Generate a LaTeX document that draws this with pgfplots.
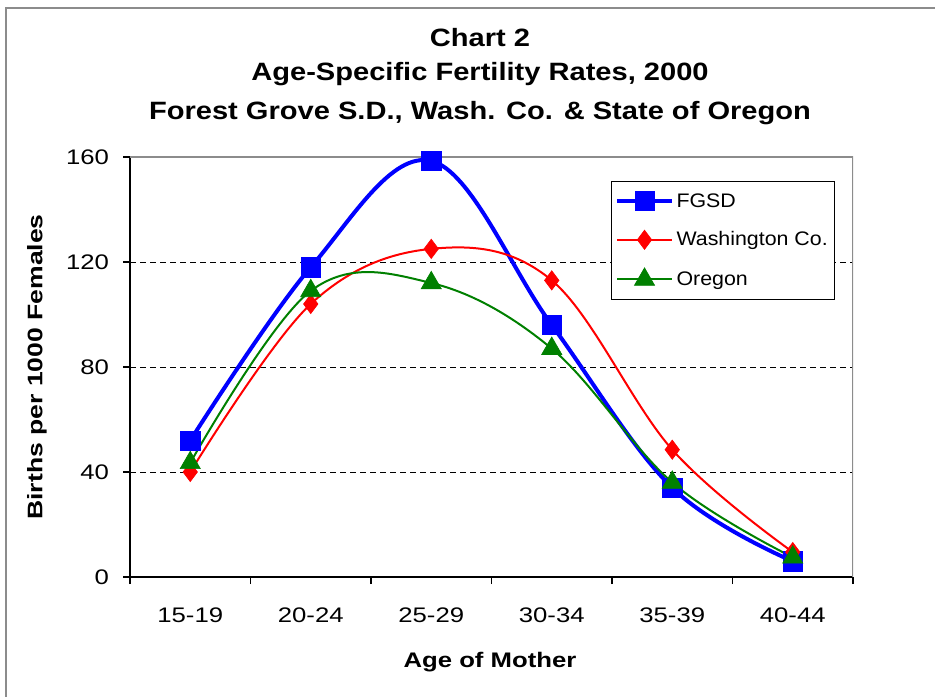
\documentclass[border=0pt]{standalone}
\usepackage{pgfplots}
\pgfplotsset{compat=1.18}
\usepackage{fontspec}
\setmainfont{Liberation Sans}
\newfontfamily\wideT{Liberation Sans}[FakeStretch=1.16]
\newfontfamily\wideA{Liberation Sans}[FakeStretch=1.22]
\newfontfamily\wideB{Liberation Sans}[FakeStretch=1.26]
\newfontfamily\wideL{Liberation Sans}[FakeStretch=1.09]
\definecolor{fgsd}{RGB}{0,0,255}
\definecolor{wash}{RGB}{255,0,0}
\definecolor{oreg}{RGB}{0,128,0}
\definecolor{frame}{RGB}{140,140,140}
\begin{document}
\begin{tikzpicture}
\useasboundingbox (0pt,0pt) rectangle (701.25pt,522pt);
% outer chart frame (left and top visible)
\draw[frame,line width=2.2pt] (4.5pt,-4pt) -- (4.5pt,516pt) -- (705pt,516pt);
% titles
\node[font=\wideT\bfseries\fontsize{18.8}{21}\selectfont] at (360pt,493.5pt) {Chart 2};
\node[font=\wideT\bfseries\fontsize{18.8}{21}\selectfont] at (360pt,466.5pt) {Age-Specific Fertility Rates, 2000};
\node[font=\wideT\bfseries\fontsize{18.8}{21}\selectfont] at (360pt,437.25pt) {Forest Grove S.D., Wash. Co. \& State of Oregon};
% axis labels
\node[font=\wideA\bfseries\fontsize{15.8}{19}\selectfont] at (367.5pt,25.5pt) {Age of Mother};
\node[font=\wideB\bfseries\fontsize{15.8}{19}\selectfont,rotate=90] at (27.75pt,246.75pt) {Births per 1000 Females};
\begin{axis}[
  at={(97.5pt,89.25pt)}, anchor=south west,
  scale only axis, width=542.25pt, height=315pt,
  xmin=-0.5, xmax=5.5, ymin=0, ymax=160,
  axis x line*=bottom, axis y line*=left,
  axis line style={black, line width=0.8pt, -},
  xtick={0,1,2,3,4,5},
  xticklabels={15-19,20-24,25-29,30-34,35-39,40-44},
  minor xtick={-0.5,0.5,1.5,2.5,3.5,4.5,5.5},
  major x tick style={draw=none},
  minor x tick style={black, line width=0.8pt},
  ytick={0,40,80,120,160},
  tick align=outside,
  major tick length=5.25pt, minor tick length=5.25pt,
  ytick style={black, line width=0.8pt},
  ymajorgrids,
  major grid style={black, line width=0.6pt, dash pattern=on 4.5pt off 3pt},
  /pgf/number format/assume math mode=true,
  ticklabel style={font=\wideA\fontsize{15.8}{18}\selectfont},
  xticklabel style={yshift=-14pt},
  yticklabel style={xshift=-7pt},
  legend style={at={(0.665,0.943)}, anchor=north west, draw=black, line width=0.6pt,
    font=\wideL\fontsize{14.7}{17}\selectfont, inner xsep=3pt, inner ysep=7pt,
    row sep=13pt, cells={anchor=west}},
  legend cell align=left,
  legend image code/.code={\draw[mark repeat=2, mark phase=2, #1] plot coordinates {(0pt,0pt) (20.5pt,0pt) (41pt,0pt)};},
]
\addplot[fgsd, line width=3pt, smooth, tension=0.6, mark=square*, mark size=7.2pt, mark options={solid, line width=0.5pt, fill=fgsd}]
  coordinates {(0,52) (1,118) (2,158.5) (3,96) (4,34) (5,6)};
\addlegendentry{FGSD}
\addplot[wash, line width=1.5pt, smooth, tension=0.6, mark=diamond*, mark size=7.2pt, mark options={solid, line width=0.5pt, fill=wash}]
  coordinates {(0,40) (1,104) (2,125) (3,113) (4,48.5) (5,9.5)};
\addlegendentry{Washington Co.}
\addplot[oreg, line width=1.5pt, smooth, tension=0.6, mark=triangle*, mark size=8.7pt, mark options={solid, line width=0.5pt, fill=oreg}]
  coordinates {(0,43.5) (1,109) (2,112) (3,87) (4,36) (5,7.5)};
\addlegendentry{Oregon}
\draw[frame, line width=1.5pt] (rel axis cs:0,1) -- (rel axis cs:1,1) -- (rel axis cs:1,-0.02);
\end{axis}
\end{tikzpicture}
\end{document}
